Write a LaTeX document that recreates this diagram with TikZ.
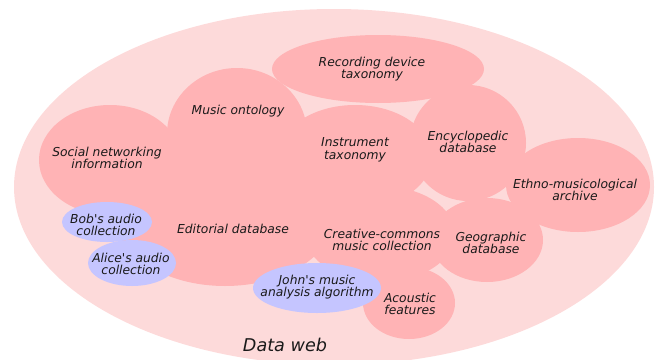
\documentclass[tikz,border=0pt]{standalone}
\usepackage{fontspec}
\setmainfont{DejaVu Sans}[Ligatures=TeXOff]
\definecolor{webbg}{HTML}{FDDADA}
\definecolor{dataset}{HTML}{FFB3B5}
\definecolor{agent}{HTML}{C5C5FF}
\definecolor{txt}{HTML}{1A1A1A}
\tikzset{
  lbl/.style={font=\fontsize{12.3}{12.6}\selectfont\itshape, text=txt, align=center, inner sep=0pt},
  weblbl/.style={font=\fontsize{17.6}{20}\selectfont\itshape, text=txt, inner sep=0pt},
  blob/.style={fill=dataset, draw=none},
  agentblob/.style={fill=agent, draw=none},
}
\begin{document}
\begin{tikzpicture}[x=1pt,y=-1pt]
\useasboundingbox (0,0) rectangle (660,359);
% outer data web
\fill[webbg] (334,187) ellipse [x radius=320, y radius=178];
% datasets
\fill[blob] (378,69) ellipse [x radius=106, y radius=34];
\fill[blob] (237,134) ellipse [x radius=70, y radius=66];
\fill[blob] (110,160) ellipse [x radius=71, y radius=55];
\fill[blob] (355,157) ellipse [x radius=77, y radius=52];
\fill[blob] (468,143) ellipse [x radius=58, y radius=58];
\fill[blob] (578,185) ellipse [x radius=72, y radius=47];
\fill[blob] (487,240) ellipse [x radius=56, y radius=42];
\fill[blob] (409,303) ellipse [x radius=46, y radius=36];
\fill[blob] (380,234) ellipse [x radius=75, y radius=48];
\fill[blob] (225,215) ellipse [x radius=110, y radius=71];
% agents
\fill[agentblob] (107,222) ellipse [x radius=45, y radius=20];
\fill[agentblob] (132,263) ellipse [x radius=44, y radius=23];
\fill[agentblob] (317,288) ellipse [x radius=64, y radius=25];
% labels
\node[lbl] (rec) at (372,69) {Recording device\\taxonomy};
\node[lbl] (mus) at (238,111) {Music ontology};
\node[lbl] (soc) at (107,158) {Social networking\\information};
\node[lbl] (ins) at (355,150) {Instrument\\taxonomy};
\node[lbl] (enc) at (468,142) {Encyclopedic\\database};
\node[lbl] (eth) at (575,190) {Ethno-musicological\\archive};
\node[lbl] (geo) at (491,243) {Geographic\\database};
\node[lbl] (aco) at (410,304) {Acoustic\\features};
\node[lbl] (cre) at (382,240) {Creative-commons\\music collection};
\node[lbl] (edi) at (233,229) {Editorial database};
\node[lbl] (bob) at (106,225) {Bob's audio\\collection};
\node[lbl] (ali) at (131,264) {Alice's audio\\collection};
\node[lbl] (joh) at (317,287) {John's music\\analysis algorithm};
\node[weblbl] (web) at (285,345) {Data web};
\end{tikzpicture}
\end{document}
